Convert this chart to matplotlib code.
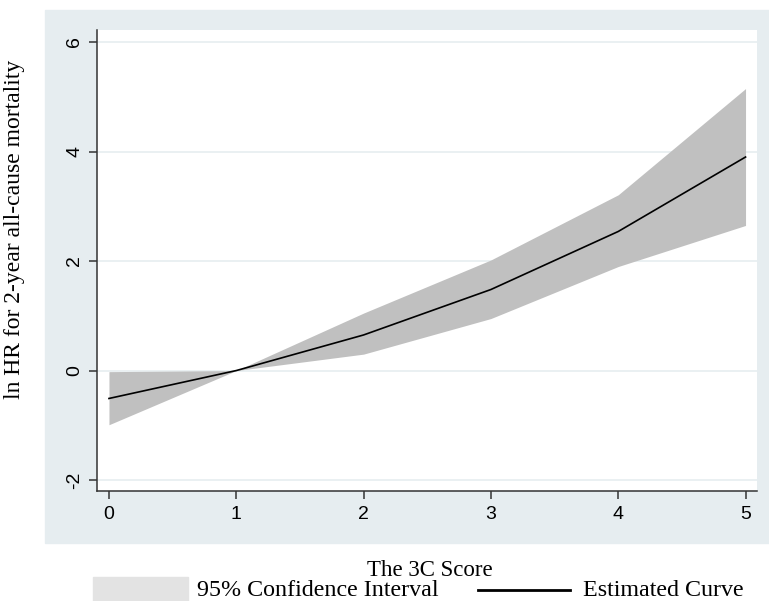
import matplotlib as mpl
import matplotlib.pyplot as plt
from matplotlib.patches import Rectangle
from matplotlib.lines import Line2D
import numpy as np

# Data
score = [0, 1, 2, 3, 4, 5]
estimate = [-0.51, 0.0, 0.65, 1.48, 2.54, 3.90]
ci_lower = [-0.99, 0.0, 0.30, 0.95, 1.90, 2.65]
ci_upper = [-0.02, 0.0, 1.05, 2.02, 3.21, 5.15]
y_ticks = [-2, 0, 2, 4, 6]

W, H = 769, 601
panel_color = '#e6edf0'
band_color = '#c0c0c0'
serif = ['Liberation Serif', 'DejaVu Serif']
sans = ['Liberation Sans', 'DejaVu Sans']

fig = plt.figure(figsize=(W / 100, H / 100), dpi=100)

# Stata-style graph region (light bluish grey panel)
fig.patches.append(Rectangle((45 / W, 1 - 543 / H), (W - 45) / W, (543 - 10) / H,
                             transform=fig.transFigure, color=panel_color, zorder=-5))

ax = fig.add_axes([97 / W, 1 - 491 / H, (757 - 97) / W, (491 - 30) / H])
ax.set_zorder(2)
ax.set_facecolor('white')

# Confidence band and curve
ax.fill_between(score, ci_lower, ci_upper, color=band_color, linewidth=0, zorder=2)
ax.plot(score, estimate, color='black', linewidth=1.2, zorder=3)

ax.set_xlim(-0.094, 5.09)
ax.set_ylim(-2.2, 6.22)
ax.set_xticks(score)
ax.set_yticks(y_ticks)
for y in y_ticks:
    ax.axhline(y, color=panel_color, linewidth=1.2, zorder=1)

ax.set_xticklabels([str(s) for s in score], fontfamily=sans, fontsize=14)
ax.set_yticklabels([str(t) for t in y_ticks], fontfamily=sans, fontsize=14,
                   rotation=90, va='center')
ax.tick_params(axis='both', length=6, width=1.1, color='#333333')
ax.tick_params(axis='x', pad=5)
ax.tick_params(axis='y', pad=4)

for side in ['top', 'right']:
    ax.spines[side].set_visible(False)
for side in ['left', 'bottom']:
    ax.spines[side].set_color('#333333')
    ax.spines[side].set_linewidth(1.1)

ax.set_ylabel('ln HR for 2-year all-cause mortality', fontfamily=serif, fontsize=17)
ax.yaxis.set_label_coords(-(97 - 25) / (757 - 97), (491 - 229) / (491 - 30))

fig.text(430 / W, 1 - 570 / H, 'The 3C Score', fontfamily=serif, fontsize=16.5,
         ha='center', va='center')

# Legend below the panel
fig.patches.append(Rectangle((93 / W, 1 - 601 / H), (188 - 93) / W, (601 - 577) / H,
                             transform=fig.transFigure, color='#e3e3e3', zorder=1))
fig.text(197 / W, 1 - 591 / H, '95% Confidence Interval', fontfamily=serif,
         fontsize=17.3, ha='left', va='center')
fig.lines.append(Line2D([478 / W, 570 / W], [1 - 590 / H, 1 - 590 / H],
                        transform=fig.transFigure, color='black', linewidth=2))
fig.text(583 / W, 1 - 591 / H, 'Estimated Curve', fontfamily=serif,
         fontsize=17.3, ha='left', va='center')

fig.savefig('out.png', dpi=100)
